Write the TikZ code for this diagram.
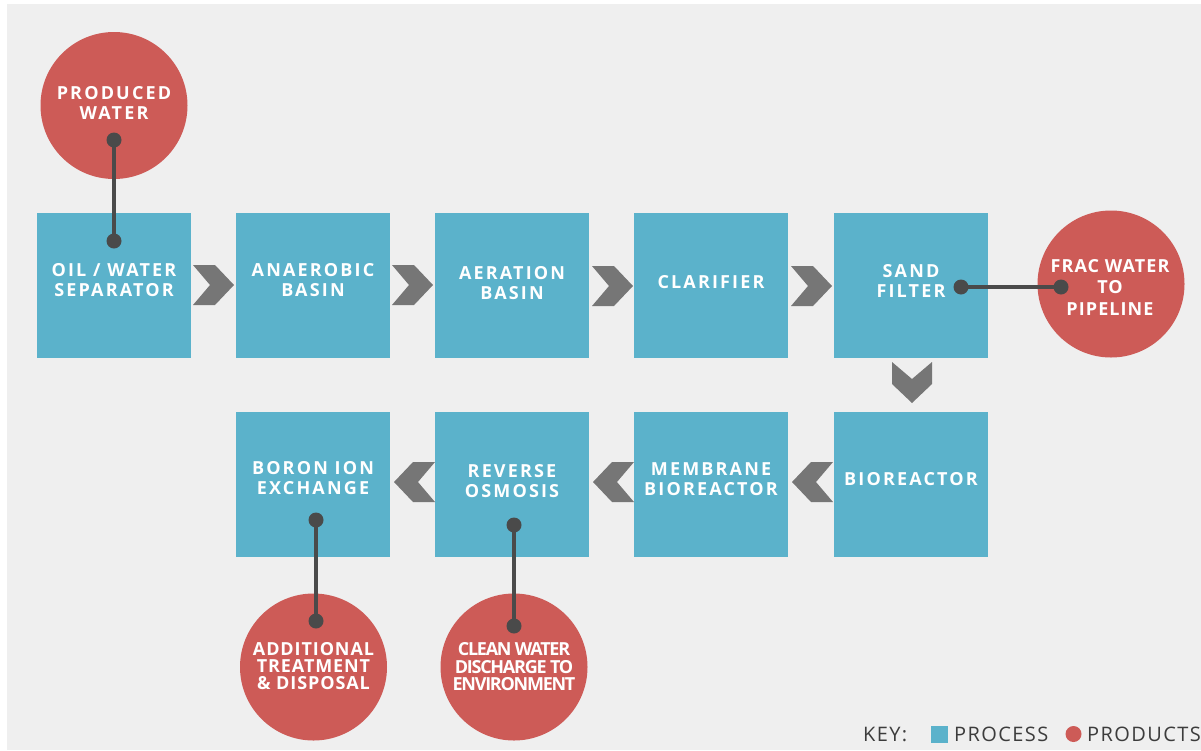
\documentclass[tikz,border=0pt]{standalone}
\usepackage{fontspec}
\setmainfont{Open Sans}
\newfontfamily\boxfont[LetterSpace=12]{Open Sans}
\newfontfamily\midfont[LetterSpace=6]{Open Sans}
\newfontfamily\addfont[LetterSpace=5]{Open Sans}
\newfontfamily\tightfont[LetterSpace=-7]{Open Sans}
\newfontfamily\keyfont[LetterSpace=7]{Open Sans}
\definecolor{procblue}{HTML}{5BB2CB}
\definecolor{prodred}{HTML}{CD5B57}
\definecolor{chevcol}{HTML}{767676}
\definecolor{conncol}{HTML}{4A4A4A}
\definecolor{bgcol}{HTML}{EFEFEF}
\definecolor{keytextcol}{HTML}{3C3C3C}
\tikzset{
  procbox/.style={fill=procblue, draw=none, minimum width=154pt, minimum height=145pt, inner sep=0pt},
  prodcirc/.style={circle, fill=prodred, draw=none, minimum size=147pt, inner sep=0pt},
  lbl/.style={text=white, font=\boxfont\bfseries\fontsize{18}{20}\selectfont, align=center, inner sep=0pt},
  dotnode/.style={circle, fill=conncol, minimum size=15pt, inner sep=0pt},
  conn/.style={draw=conncol, line width=4.5pt},
  keytext/.style={text=keytextcol, font=\keyfont\fontsize{20}{22}\selectfont, inner sep=0pt, anchor=base west},
  chevR/.pic={\fill[chevcol] (0,-20) -- (22,-20) -- (41,0) -- (22,20) -- (0,20) -- (17,0) -- cycle;},
  chevL/.pic={\fill[chevcol] (0,-20) -- (-22,-20) -- (-41,0) -- (-22,20) -- (0,20) -- (-17,0) -- cycle;},
  chevD/.pic={\fill[chevcol] (-20,0) -- (-20,22) -- (0,41) -- (20,22) -- (20,0) -- (0,17) -- cycle;}
}
\begin{document}
\begin{tikzpicture}[x=1pt, y=-1pt]
\useasboundingbox (0,0) rectangle (1201,750);
\fill[bgcol] (7,4) rectangle (1201,750);

% process boxes, row 1
\node[procbox] (b1) at (114,285.5) {};
\node[procbox] (b2) at (313,285.5) {};
\node[procbox] (b3) at (512,285.5) {};
\node[procbox] (b4) at (711,285.5) {};
\node[procbox] (b5) at (911,285.5) {};
% row 2
\node[procbox] (c4) at (911,484.5) {};
\node[procbox] (c3) at (711,484.5) {};
\node[procbox] (c2) at (512,484.5) {};
\node[procbox] (c1) at (313,484.5) {};

% products
\node[prodcirc] (pw) at (114,105.5) {};
\node[prodcirc] (fw) at (1111,284) {};
\node[prodcirc] (at) at (313.5,667) {};
\node[prodcirc] (cw) at (514,667) {};

% chevrons
\pic at (193,285) {chevR};
\pic at (392,285) {chevR};
\pic at (592,286) {chevR};
\pic at (791,286) {chevR};
\pic at (912,362) {chevD};
\pic at (833,482) {chevL};
\pic at (634,482) {chevL};
\pic at (435,482) {chevL};

% connectors
\node[dotnode] (d1a) at (114,140) {};
\node[dotnode] (d1b) at (114,241) {};
\draw[conn] (d1a.center) -- (d1b.center);
\node[dotnode] (d2a) at (961,287) {};
\node[dotnode] (d2b) at (1061,287) {};
\draw[conn] (d2a.center) -- (d2b.center);
\node[dotnode] (d3a) at (316,520) {};
\node[dotnode] (d3b) at (316,621) {};
\draw[conn] (d3a.center) -- (d3b.center);
\node[dotnode] (d4a) at (514,525) {};
\node[dotnode] (d4b) at (514,626) {};
\draw[conn] (d4a.center) -- (d4b.center);

% labels
\node[lbl] (t1) at (114,280.5) {OIL / WATER\\SEPARATOR};
\node[lbl] (t2) at (313,280.5) {ANAEROBIC\\BASIN};
\node[lbl] (t3) at (512,283) {AERATION\\BASIN};
\node[lbl] (t4) at (711,282.5) {CLARIFIER};
\node[lbl] (t5) at (911,280.5) {SAND\\FILTER};
\node[lbl] (u4) at (911,479.5) {BIOREACTOR};
\node[lbl] (u3) at (711,479.5) {MEMBRANE\\BIOREACTOR};
\node[lbl] (u2) at (512,481.5) {REVERSE\\OSMOSIS};
\node[lbl] (u1) at (313,478.5) {BORON ION\\EXCHANGE};

\node[lbl] (tpw) at (114,102.5) {PRODUCED\\WATER};
\node[lbl, font=\midfont\bfseries\fontsize{18}{21.5}\selectfont] (tfw) at (1110,287) {FRAC WATER\\TO\\PIPELINE};
\node[lbl, font=\addfont\bfseries\fontsize{18}{17}\selectfont] (tat) at (313.5,666.5) {ADDITIONAL\\TREATMENT\\\& DISPOSAL};
\node[lbl, font=\tightfont\bfseries\fontsize{18}{17.5}\selectfont] (tcw) at (514,667) {CLEAN WATER\\DISCHARGE TO\\ENVIRONMENT};

% key
\node[keytext] (kk) at (863,741) {KEY:};
\node[fill=procblue, minimum size=17pt, inner sep=0pt] (ksq) at (939,734) {};
\node[keytext] (kp) at (954,741) {PROCESS};
\node[circle, fill=prodred, minimum size=16pt, inner sep=0pt] (kc) at (1073.5,734) {};
\node[keytext] (kq) at (1087,741) {PRODUCTS};
\end{tikzpicture}
\end{document}
